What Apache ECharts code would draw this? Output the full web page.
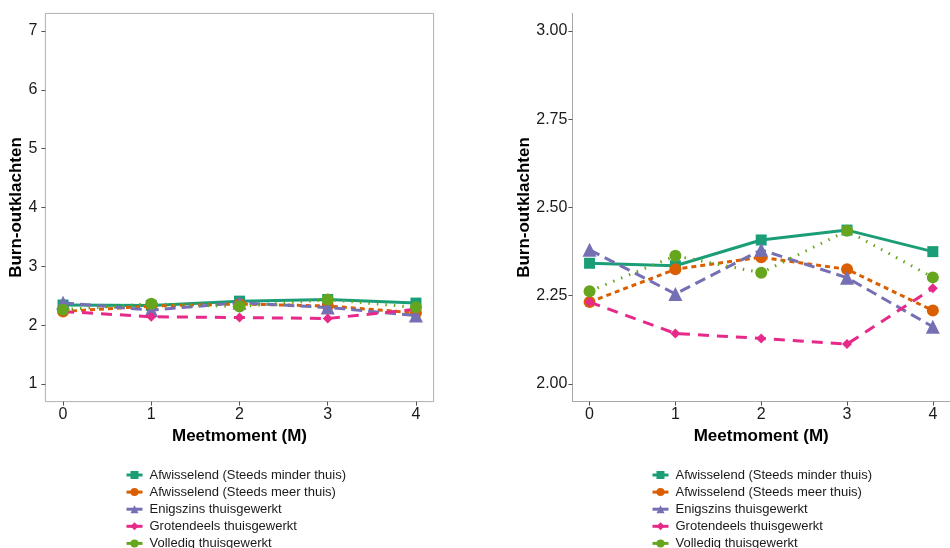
<!DOCTYPE html>
<html><head><meta charset="utf-8">
<script src="https://cdn.jsdelivr.net/npm/echarts@6/dist/echarts.min.js"></script>
<style>html,body{margin:0;padding:0;background:#fff}#c{width:950px;height:548px}</style>
</head><body><div id="c"></div>
<script>
var moments = [0, 1, 2, 3, 4];
var groupNames = ['Afwisselend (Steeds minder thuis)', 'Afwisselend (Steeds meer thuis)', 'Enigszins thuisgewerkt', 'Grotendeels thuisgewerkt', 'Volledig thuisgewerkt'];
var afwMinder = [2.342, 2.335, 2.408, 2.436, 2.375];
var afwMeer = [2.232, 2.325, 2.359, 2.325, 2.208];
var enigszins = [2.380, 2.255, 2.380, 2.301, 2.162];
var grotendeels = [2.232, 2.143, 2.129, 2.113, 2.271];
var volledig = [2.263, 2.363, 2.315, 2.434, 2.302];
var leftTicks = [1, 2, 3, 4, 5, 6, 7];
var rightTicks = [2.00, 2.25, 2.50, 2.75, 3.00];

var values = [afwMinder, afwMeer, enigszins, grotendeels, volledig];
var colors = ['#1B9E77', '#D95F02', '#7570B3', '#E7298A', '#66A61E'];
var symbols = ['rect', 'circle', 'triangle', 'diamond', 'circle'];
var symSizes = [11, 12, 14, 10, 12];
var lineTypes = ['solid', [5, 4], [11, 6], [11, 8], [1.5, 7]];

var font = 'Liberation Sans, Arial, sans-serif';
function xAxisCfg(idx, showLine) {
  return {
    type: 'value', gridIndex: idx, min: -0.2, max: 4.2,
    name: 'Meetmoment (M)', nameLocation: 'middle', nameGap: 25,
    nameTextStyle: { fontFamily: font, fontSize: 17, fontWeight: 'bold', color: '#000' },
    axisLine: { show: showLine, onZero: false, lineStyle: { color: '#a8a8a8', width: 1 } },
    axisTick: { show: true, length: 4, lineStyle: { color: '#555' }, customValues: moments },
    axisLabel: { fontFamily: font, fontSize: 16, color: '#1a1a1a', margin: 5, customValues: moments },
    splitLine: { show: false }
  };
}
function yAxisCfg(idx, min, max, ticks, showLine, dec) {
  return {
    type: 'value', gridIndex: idx, min: min, max: max,
    name: 'Burn-outklachten', nameLocation: 'middle', nameGap: dec ? 40 : 18,
    nameTextStyle: { fontFamily: font, fontSize: 17, fontWeight: 'bold', color: '#000' },
    axisLine: { show: showLine, onZero: false, lineStyle: { color: '#a8a8a8', width: 1 } },
    axisTick: { show: true, length: 4, lineStyle: { color: '#555' }, customValues: ticks },
    axisLabel: { fontFamily: font, fontSize: 16, color: '#1a1a1a', margin: dec ? 5 : 8, customValues: ticks,
      formatter: function (v) { return dec ? v.toFixed(2) : String(v); } },
    splitLine: { show: false }
  };
}

var series = [];
for (var g = 0; g < 2; g++) {
  for (var i = 0; i < groupNames.length; i++) {
    series.push({
      type: 'line', name: groupNames[i], xAxisIndex: g, yAxisIndex: g,
      data: moments.map(function (m, k) { return [m, values[i][k]]; }),
      symbol: symbols[i], symbolSize: symSizes[i], showSymbol: true,
      itemStyle: { color: colors[i] },
      lineStyle: { color: colors[i], width: 3, type: lineTypes[i] },
      animation: false, z: 2 + i
    });
  }
}

function legendCfg(left) {
  return {
    orient: 'vertical', left: left, top: 463.5, height: 140, itemWidth: 16, itemHeight: 10, itemGap: 4.1,
    lineStyle: { type: 'solid', width: 3 },
    textStyle: { fontFamily: font, fontSize: 13, color: '#1a1a1a', padding: [0, 0, 0, 2] },
    data: groupNames
  };
}

var chart = echarts.init(document.getElementById('c'), null, { renderer: 'canvas' });
chart.setOption({
  backgroundColor: '#fff',
  animation: false,
  grid: [
    { left: 45.4, right: 516.4, top: 13.4, bottom: 146.4, show: true, borderColor: '#b0b0b0', borderWidth: 1, backgroundColor: 'transparent' },
    { left: 572.4, right: -8.6, top: 13.4, bottom: 146.4, show: false }
  ],
  xAxis: [xAxisCfg(0, false), xAxisCfg(1, true)],
  yAxis: [yAxisCfg(0, 0.7, 7.3, leftTicks, false, false), yAxisCfg(1, 1.95, 3.05, rightTicks, true, true)],
  legend: [legendCfg(120), legendCfg(646)],
  series: series
});
</script></body></html>
